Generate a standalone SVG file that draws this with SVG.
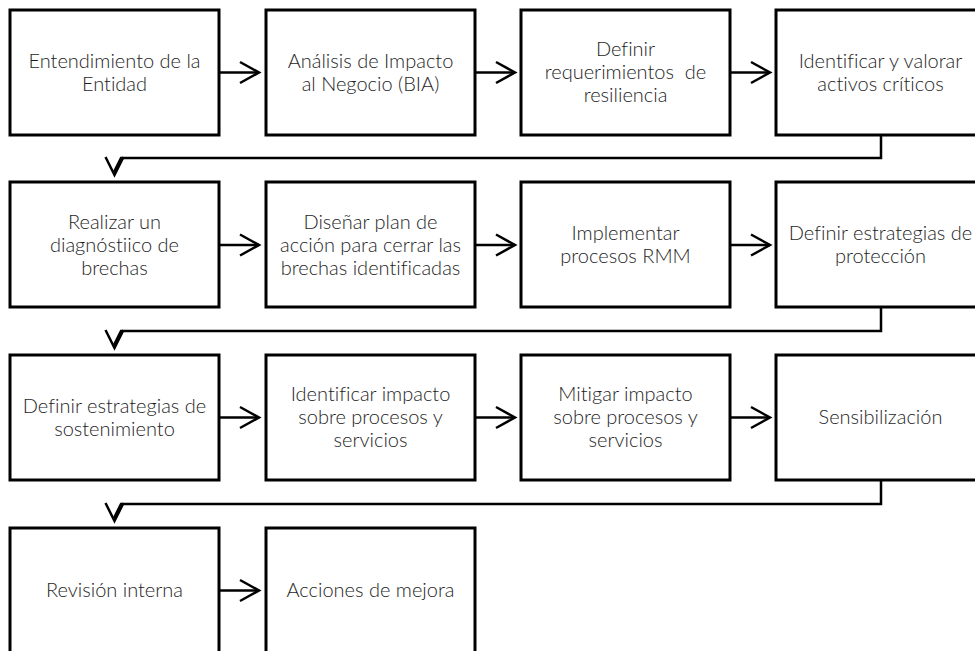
<svg xmlns="http://www.w3.org/2000/svg" width="975" height="651" viewBox="0 0 975 651">
  <style>
    .box { fill: #ffffff; stroke: #000000; stroke-width: 3; }
    .lbl { font-family: "Lato", "Open Sans", "Liberation Sans", sans-serif; font-weight: 300; font-size: 20px; fill: #1e1e1e; text-anchor: middle; font-variant-ligatures: none; }
    .wire { fill: none; stroke: #000000; stroke-width: 2.5; }
  </style>
  <defs>
    <marker id="chev" markerUnits="userSpaceOnUse" viewBox="-22 -12 26 24" refX="0" refY="0" markerWidth="26" markerHeight="24" orient="auto" overflow="visible">
      <path d="M-19,-10.5 L0,0 L-19,10.5" fill="none" stroke="#000" stroke-width="2.5"/>
    </marker>
  </defs>
  <rect width="975" height="651" fill="#ffffff"/>

  <!-- row 1 -->
  <g id="n1"><rect class="box" x="10" y="10" width="209" height="125"/>
    <text class="lbl" x="114.5" y="67.5">Entendimiento de la</text>
    <text class="lbl" x="114.5" y="90.5">Entidad</text></g>
  <g id="n2"><rect class="box" x="266" y="10" width="209" height="125"/>
    <text class="lbl" x="370.5" y="67.5">Análisis de Impacto</text>
    <text class="lbl" x="370.5" y="90.5">al Negocio (BIA)</text></g>
  <g id="n3"><rect class="box" x="521" y="10" width="209" height="125"/>
    <text class="lbl" x="625.5" y="56">Definir</text>
    <text class="lbl" x="625.5" y="79" xml:space="preserve">requerimientos  de</text>
    <text class="lbl" x="625.5" y="102">resiliencia</text></g>
  <g id="n4"><rect class="box" x="776" y="10" width="209" height="125"/>
    <text class="lbl" x="880.5" y="67.5">Identificar y valorar</text>
    <text class="lbl" x="880.5" y="90.5">activos críticos</text></g>

  <!-- row 2 -->
  <g id="n5"><rect class="box" x="10" y="182" width="209" height="125"/>
    <text class="lbl" x="114.5" y="228.5">Realizar un</text>
    <text class="lbl" x="114.5" y="251.5">diagnóstiico de</text>
    <text class="lbl" x="114.5" y="274.5">brechas</text></g>
  <g id="n6"><rect class="box" x="266" y="182" width="209" height="125"/>
    <text class="lbl" x="370.5" y="228.5">Diseñar plan de</text>
    <text class="lbl" x="370.5" y="251.5">acción para cerrar las</text>
    <text class="lbl" x="370.5" y="274.5">brechas identificadas</text></g>
  <g id="n7"><rect class="box" x="521" y="182" width="209" height="125"/>
    <text class="lbl" x="625.5" y="240">Implementar</text>
    <text class="lbl" x="625.5" y="263">procesos RMM</text></g>
  <g id="n8"><rect class="box" x="776" y="182" width="209" height="125"/>
    <text class="lbl" x="880.5" y="240">Definir estrategias de</text>
    <text class="lbl" x="880.5" y="263">protección</text></g>

  <!-- row 3 -->
  <g id="n9"><rect class="box" x="10" y="355" width="209" height="125"/>
    <text class="lbl" x="114.5" y="412.5">Definir estrategias de</text>
    <text class="lbl" x="114.5" y="435.5">sostenimiento</text></g>
  <g id="n10"><rect class="box" x="266" y="355" width="209" height="125"/>
    <text class="lbl" x="370.5" y="401">Identificar impacto</text>
    <text class="lbl" x="370.5" y="424">sobre procesos y</text>
    <text class="lbl" x="370.5" y="447">servicios</text></g>
  <g id="n11"><rect class="box" x="521" y="355" width="209" height="125"/>
    <text class="lbl" x="625.5" y="401">Mitigar impacto</text>
    <text class="lbl" x="625.5" y="424">sobre procesos y</text>
    <text class="lbl" x="625.5" y="447">servicios</text></g>
  <g id="n12"><rect class="box" x="776" y="355" width="209" height="125"/>
    <text class="lbl" x="880.5" y="424">Sensibilización</text></g>

  <!-- row 4 -->
  <g id="n13"><rect class="box" x="10" y="528" width="209" height="125"/>
    <text class="lbl" x="114.5" y="597">Revisión interna</text></g>
  <g id="n14"><rect class="box" x="266" y="528" width="209" height="125"/>
    <text class="lbl" x="370.5" y="597">Acciones de mejora</text></g>

  <!-- connectors -->
  <g id="connectors">
    <g marker-end="url(#chev)">
      <path class="wire" d="M219,72.5 H259"/>
      <path class="wire" d="M475,72.5 H515"/>
      <path class="wire" d="M730,72.5 H770"/>
      <path class="wire" d="M219,245 H259"/>
      <path class="wire" d="M475,245 H515"/>
      <path class="wire" d="M730,245 H770"/>
      <path class="wire" d="M219,417.5 H259"/>
      <path class="wire" d="M475,417.5 H515"/>
      <path class="wire" d="M730,417.5 H770"/>
      <path class="wire" d="M219,590.5 H259"/>
    </g>
    <!-- row wrap-arounds -->
    <path class="wire" d="M881,135 V158 H121 L114,172"/>
    <polyline class="wire" points="105.5,157 114.5,175 123.5,157"/>
    <path class="wire" d="M881,307 V331 H121 L114,345"/>
    <polyline class="wire" points="105.5,330 114.5,348 123.5,330"/>
    <path class="wire" d="M881,480 V504 H121 L114,518"/>
    <polyline class="wire" points="105.5,503 114.5,521 123.5,503"/>
  </g>
</svg>
